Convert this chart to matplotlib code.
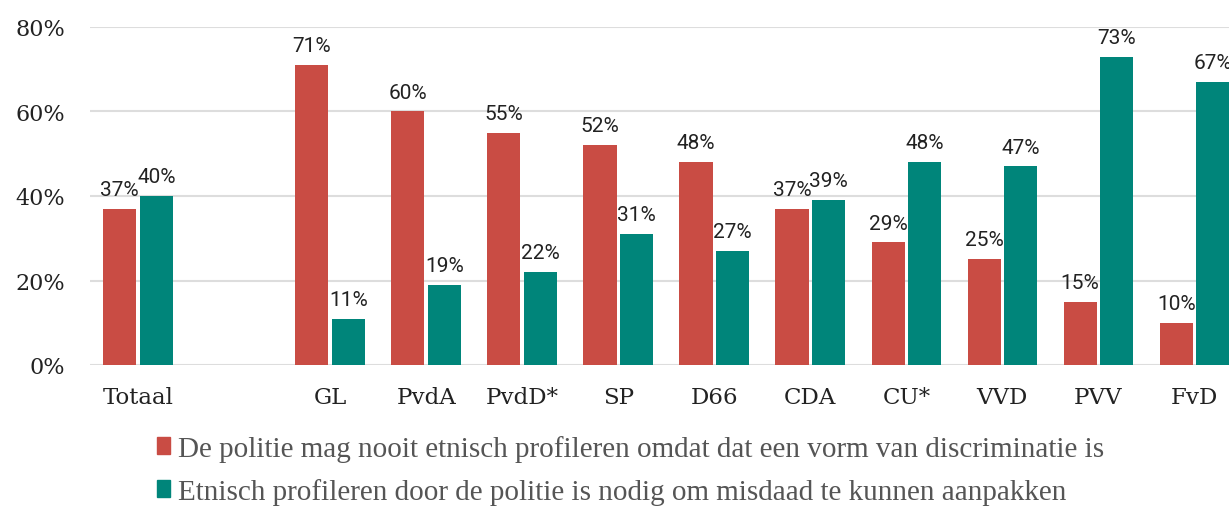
import matplotlib
matplotlib.use("Agg")
import matplotlib.pyplot as plt
from matplotlib.patches import Patch
import numpy as np

categories = ["Totaal", "", "GL", "PvdA", "PvdD*", "SP", "D66", "CDA", "CU*", "VVD", "PVV", "FvD"]
nooit = [37, None, 71, 60, 55, 52, 48, 37, 29, 25, 15, 10]
nodig = [40, None, 11, 19, 22, 31, 27, 39, 48, 47, 73, 67]
series_labels = [
    "De politie mag nooit etnisch profileren omdat dat een vorm van discriminatie is",
    "Etnisch profileren door de politie is nodig om misdaad te kunnen aanpakken",
]
yticks = [0, 20, 40, 60, 80]

RED = "#C94C44"
TEAL = "#00857A"

fig = plt.figure(figsize=(12.29, 5.10), dpi=100)
ax = fig.add_axes([90/1229, 144/510, 1 - 90/1229, (366-28)/510])

x = np.arange(len(categories))
w = 0.345
off = 0.19
for vals, sign, col in [(nooit, -1, RED), (nodig, 1, TEAL)]:
    xs = [xi + sign*off for xi, v in zip(x, vals) if v is not None]
    vs = [v for v in vals if v is not None]
    bars = ax.bar(xs, vs, width=w, color=col, zorder=3)
    for b, v in zip(bars, vs):
        ax.annotate(f"{v}%", (b.get_x() + b.get_width()/2, v), xytext=(0, 10),
                    textcoords="offset points", ha="center", va="baseline",
                    fontsize=15, family="Roboto", color="#222222")

ax.set_ylim(0, 80)
ax.set_xlim(-0.5, 11.36)
ax.set_yticks(yticks)
ax.set_yticklabels([f"{t}%" for t in yticks], family="DejaVu Serif", fontsize=16, color="#222222")
ax.set_xticks(x)
ax.set_xticklabels(categories, family="DejaVu Serif", fontsize=16.5, color="#222222")
ax.tick_params(axis="y", length=0, pad=18)
ax.tick_params(axis="x", length=0, pad=15)
ax.grid(axis="y", color="#dddddd", linewidth=1.5, zorder=0)
for s in ax.spines.values():
    s.set_visible(False)

handles = [Patch(color=RED), Patch(color=TEAL)]
leg = fig.legend(handles, series_labels, loc="upper left", bbox_to_anchor=(157/1229, 1 - 436/510),
                 frameon=False, handlelength=0.46, handleheight=0.5, handletextpad=0.25,
                 labelspacing=0.55, prop={"family": "Liberation Serif", "size": 21},
                 labelcolor="#555555", borderaxespad=0, borderpad=0)

fig.savefig("out.png", dpi=100)
